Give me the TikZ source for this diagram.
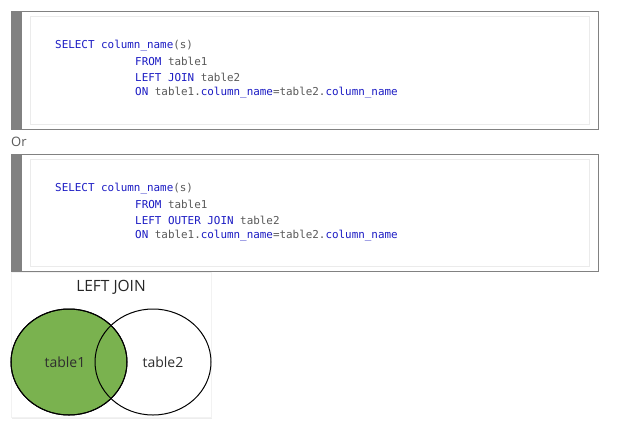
\documentclass[tikz,border=0pt]{standalone}
\usepackage{fontspec}
\setmainfont{Open Sans}
\setmonofont{DejaVu Sans Mono}
\usepackage{xcolor}
\usetikzlibrary{shapes.geometric}

\definecolor{sqlblue}{HTML}{1C1CC4}
\definecolor{sqlgray}{HTML}{5A5A5A}
\definecolor{barGray}{HTML}{818181}
\definecolor{vennGreen}{HTML}{7AB24F}
\newcommand{\kw}[1]{\textcolor{sqlblue}{#1}}

\begin{document}
\begin{tikzpicture}[
  x=1pt,y=-1pt,
  codebox/.style={draw=barGray, line width=1pt, fill=white},
  innerbox/.style={draw=black!8, line width=0.8pt},
  codeline/.style={anchor=west, inner sep=0pt, font=\fontsize{10.9}{12}\ttfamily,
    text=sqlgray},
  venn/.style={ellipse, draw=black, line width=1pt, minimum width=116pt,
    minimum height=106pt, inner sep=0pt},
  vennlabel/.style={inner sep=0pt, font=\fontsize{14}{16}\selectfont, text=black!82}
]
\useasboundingbox (0,0) rectangle (621,442);

% first query
\draw[codebox] (11,11) rectangle (598,129);
\fill[barGray] (11,11) rectangle (22,129);
\draw[innerbox] (30,16) rectangle (589,124);
\node[codeline] (sel1) at (55,46) {\kw{SELECT column\_name}(s)};
\node[codeline] (from1) at (135,61.5) {\kw{FROM} table1};
\node[codeline] (join1) at (135,77) {\kw{LEFT JOIN} table2};
\node[codeline] (on1) at (135,92.5) {\kw{ON} table1.\kw{column\_name}=table2.\kw{column\_name}};

\node[anchor=west, inner sep=0pt, text=sqlgray, font=\fontsize{13}{15}\selectfont]
  (or) at (11,142) {Or};

% second query
\draw[codebox] (11,154) rectangle (598,271);
\fill[barGray] (11,154) rectangle (22,271);
\draw[innerbox] (30,159) rectangle (589,266);
\node[codeline] (sel2) at (55,189) {\kw{SELECT column\_name}(s)};
\node[codeline] (from2) at (135,204.5) {\kw{FROM} table1};
\node[codeline] (join2) at (135,220) {\kw{LEFT OUTER JOIN} table2};
\node[codeline] (on2) at (135,235.5) {\kw{ON} table1.\kw{column\_name}=table2.\kw{column\_name}};

% venn card
\fill[black!7] (12,274) rectangle (212,419);
\draw[fill=white, draw=black!5] (11,272) rectangle (211,417);
\node[font=\fontsize{15.5}{17}\selectfont, text=black!85] (title) at (111,287) {LEFT JOIN};
\node[venn, fill=vennGreen] (t1) at (69,362) {};
\node[venn] (t2) at (153,362) {};
\node[venn] at (t1) {};
\node[vennlabel] (lbl1) at (65,362) {table1};
\node[vennlabel] (lbl2) at (163,362) {table2};
\end{tikzpicture}
\end{document}
